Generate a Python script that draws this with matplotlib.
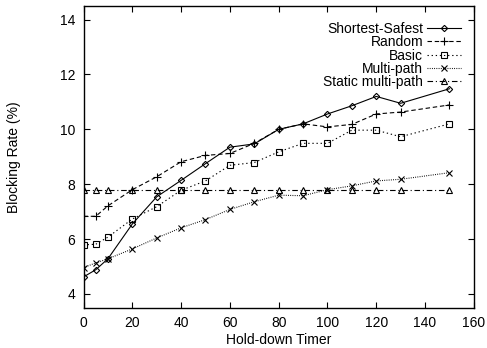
import matplotlib
matplotlib.use("Agg")
import matplotlib.pyplot as plt

# Data
timer = [0, 5, 10, 20, 30, 40, 50, 60, 70, 80, 90, 100, 110, 120, 130, 150]
shortest_safest = [4.62, 4.88, 5.28, 6.55, 7.54, 8.14, 8.75, 9.35, 9.47, 10.0, 10.2, 10.56, 10.86, 11.2, 10.95, 11.48]
random_rt = [6.83, 6.83, 7.21, 7.8, 8.27, 8.82, 9.05, 9.12, 9.49, 10.0, 10.2, 10.09, 10.18, 10.56, 10.63, 10.89]
basic = [5.79, 5.81, 6.07, 6.73, 7.18, 7.78, 8.12, 8.69, 8.79, 9.18, 9.49, 9.49, 9.97, 9.97, 9.73, 10.2]
multi_path = [4.96, 5.13, 5.28, 5.64, 6.04, 6.41, 6.71, 7.08, 7.36, 7.6, 7.58, 7.8, 7.94, 8.12, 8.18, 8.42]
static_multi = [7.8] * len(timer)

plt.rcParams['font.family'] = ['Liberation Sans', 'DejaVu Sans']
plt.rcParams['font.size'] = 10

fig = plt.figure(figsize=(4.87, 3.48), dpi=100)
ax = fig.add_axes([0.1715, 0.116, 0.8015, 0.867])

mk = dict(color='black', lw=0.8, markersize=4, markerfacecolor='none', markeredgewidth=0.8)
ax.plot(timer, shortest_safest, linestyle='-', marker='D', label='Shortest-Safest', **{**mk, 'markersize': 3.2})
ax.plot(timer, random_rt, linestyle=(0, (4, 2.5)), marker='+', label='Random', **{**mk, 'markersize': 5.5})
ax.plot(timer, basic, linestyle=(0, (1.2, 2.5)), marker='s', label='Basic', **mk)
ax.plot(timer, multi_path, linestyle=(0, (0.8, 1.2)), marker='x', label='Multi-path', **mk)
ax.plot(timer, static_multi, linestyle=(0, (5, 2.5, 1, 2.5)), marker='^', label='Static multi-path', **mk)

ax.set_xlim(0, 160)
ax.set_ylim(3.5, 14.5)
ax.set_xticks(range(0, 161, 20))
ax.set_yticks(range(4, 15, 2))
ax.tick_params(direction='in', top=True, right=True, length=4, width=0.8, pad=6)
for s in ax.spines.values():
    s.set_linewidth(1.0)

ax.set_xlabel('Hold-down Timer', labelpad=2)
ax.set_ylabel('Blocking Rate (%)', labelpad=28)

ax.legend(loc='upper right', frameon=False, markerfirst=False, handlelength=2.4,
          handletextpad=0.3, labelspacing=-0.05, borderaxespad=0.0, borderpad=0.0,
          bbox_to_anchor=(0.966, 0.947))

fig.savefig('out.png', dpi=100)
